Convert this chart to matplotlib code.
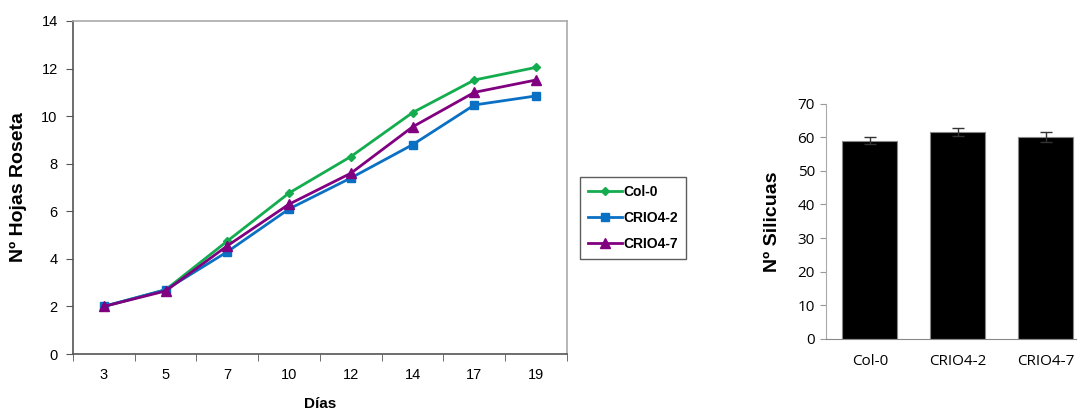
import matplotlib
matplotlib.use("Agg")
import matplotlib.pyplot as plt
import numpy as np

dias = ["3", "5", "7", "10", "12", "14", "17", "19"]
col0 = [2.0, 2.7, 4.75, 6.77, 8.3, 10.15, 11.52, 12.05]
crio4_2 = [2.0, 2.7, 4.3, 6.1, 7.4, 8.8, 10.47, 10.85]
crio4_7 = [2.0, 2.65, 4.55, 6.3, 7.6, 9.55, 11.0, 11.52]

lineas = ["Col-0", "CRIO4-2", "CRIO4-7"]
silicuas = [59.0, 61.5, 60.0]
silicuas_err = [1.0, 1.3, 1.5]

W, H = 1077, 412
fig = plt.figure(figsize=(W / 100, H / 100), dpi=100)

def ax_rect(x0, y0, x1, y1):
    return [x0 / W, 1 - y1 / H, (x1 - x0) / W, (y1 - y0) / H]

font_l = "Liberation Sans"

# Left chart
ax = fig.add_axes(ax_rect(73, 21, 567, 354))
x = np.arange(len(dias))
ax.plot(x, col0, color="#13AD4F", marker="D", markersize=4.5, lw=2, label="Col-0")
ax.plot(x, crio4_2, color="#0A70C4", marker="s", markersize=6, lw=2, label="CRIO4-2")
ax.plot(x, crio4_7, color="#800080", marker="^", markersize=7, lw=2, label="CRIO4-7")
ax.set_xlim(-0.5, len(dias) - 0.5)
ax.set_ylim(0, 14)
ax.set_yticks(range(0, 15, 2))
ax.set_xticks(x)
ax.set_xticklabels(dias, fontfamily=font_l, fontsize=10.5)
ax.set_xticks(np.arange(-0.5, len(dias), 1), minor=True)
ax.tick_params(axis="x", which="major", length=0, pad=10)
ax.tick_params(axis="x", which="minor", length=5, color="#555555", direction="out")
ax.tick_params(axis="y", length=5, color="#555555", direction="out", pad=6)
for lab in ax.get_yticklabels():
    lab.set_fontfamily(font_l)
    lab.set_fontsize(10.5)
for s in ["left", "bottom"]:
    ax.spines[s].set_color("#555555")
    ax.spines[s].set_linewidth(1.2)
for s in ["top", "right"]:
    ax.spines[s].set_color("#AAAAAA")
    ax.spines[s].set_linewidth(1.2)
ax.set_xlabel("Días", fontfamily=font_l, fontsize=11, fontweight="bold", labelpad=11)
ax.set_ylabel("Nº Hojas Roseta", fontfamily=font_l, fontsize=14, fontweight="bold", labelpad=10)

leg = fig.legend(loc="upper left", bbox_to_anchor=(580 / W, 1 - 177 / H),
                 prop={"family": font_l, "weight": "bold", "size": 10},
                 frameon=True, fancybox=False, edgecolor="#333333",
                 handlelength=2.4, handletextpad=0.1, labelspacing=0.85,
                 borderpad=0.6, borderaxespad=0)
leg.get_frame().set_linewidth(1.0)

# Right chart
ax2 = fig.add_axes(ax_rect(826, 103.5, 1077, 339))
xb = np.arange(len(lineas))
ax2.bar(xb, silicuas, width=0.625, color="black", edgecolor="#888888", linewidth=0.8,
        yerr=silicuas_err, error_kw=dict(ecolor="#333333", elinewidth=1, capsize=4, capthick=1))
ax2.set_xlim(-0.5, 2.358)
ax2.set_ylim(0, 70)
ax2.set_yticks(range(0, 71, 10))
ax2.set_xticks(xb)
ax2.set_xticklabels(lineas, fontfamily="Open Sans", fontsize=11)
for lab in ax2.get_yticklabels():
    lab.set_fontfamily("Open Sans")
    lab.set_fontsize(11)
ax2.tick_params(axis="x", length=0, pad=11)
ax2.tick_params(axis="y", length=4, color="#999999", pad=4)
ax2.spines["top"].set_visible(False)
ax2.spines["right"].set_visible(False)
ax2.spines["left"].set_color("#AAAAAA")
ax2.spines["bottom"].set_color("#888888")
ax2.set_ylabel("Nº Silicuas", fontfamily=font_l, fontsize=14, fontweight="bold", labelpad=12)

fig.savefig("out.png", dpi=100)
